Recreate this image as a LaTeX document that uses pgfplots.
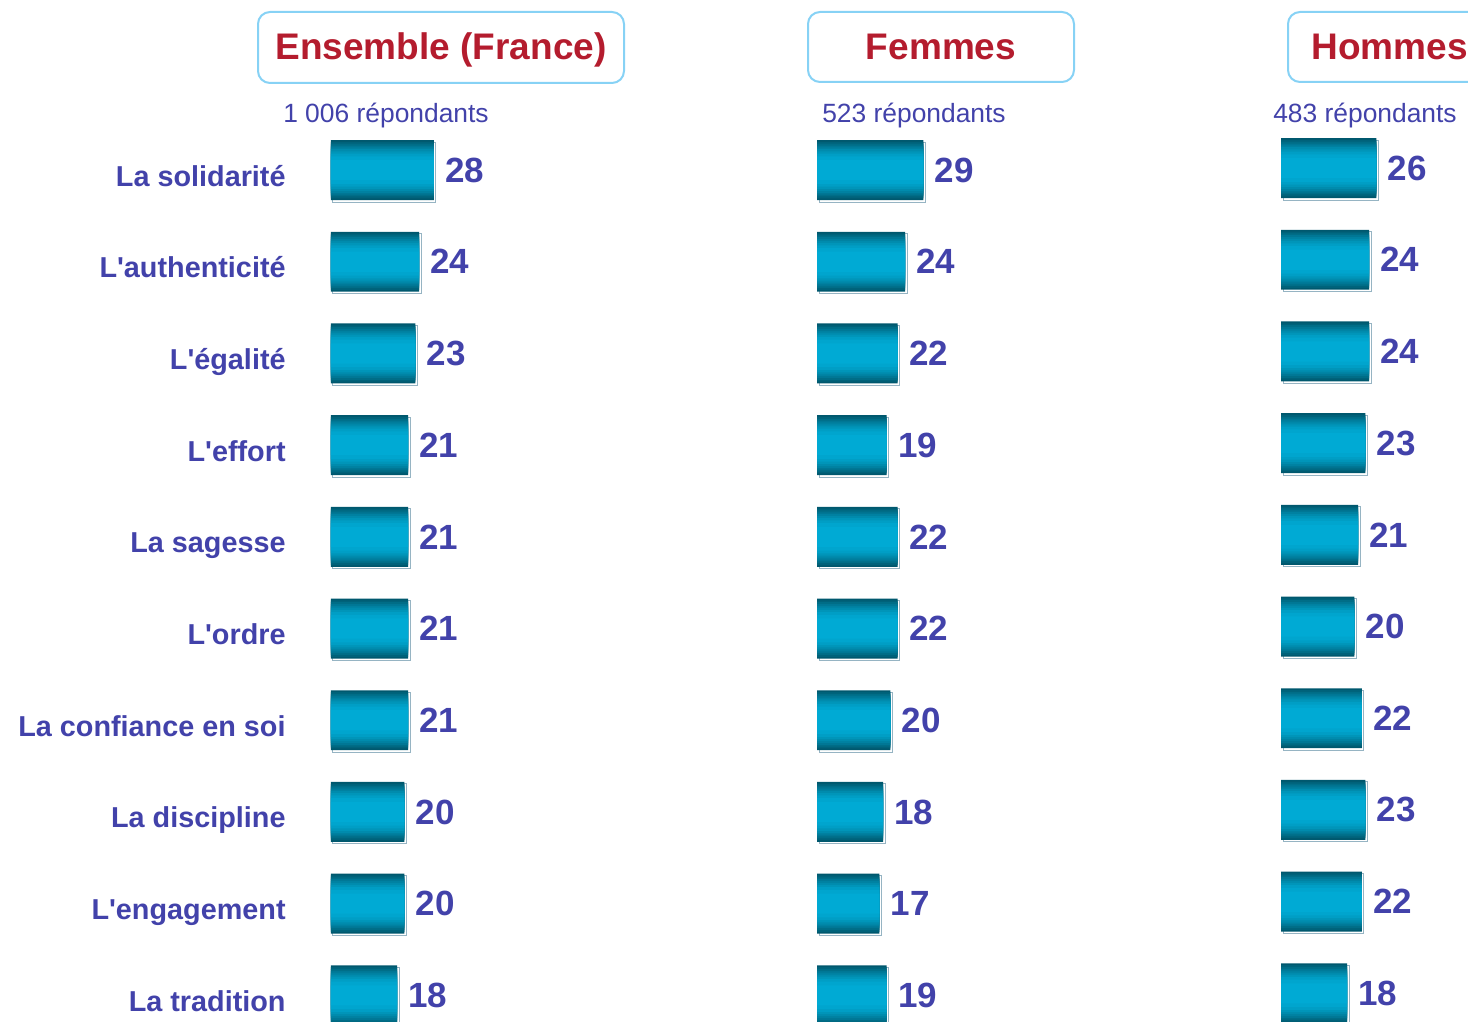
\documentclass[border=0pt]{standalone}
\usepackage{fontspec}
\setmainfont{Liberation Sans}
\usepackage{pgfplots}
\usepackage{pgfplotstable}
\pgfplotsset{compat=1.18}

\definecolor{txtblue}{RGB}{66,66,170}
\definecolor{titlered}{RGB}{180,28,46}
\definecolor{boxblue}{RGB}{135,210,245}
\definecolor{bardark}{RGB}{0,88,110}
\definecolor{barmid}{RGB}{0,170,212}
\definecolor{barshadow}{RGB}{150,180,195}

% scores (%) per row: 0 = La solidarite ... 9 = La tradition
\pgfplotstableread{
row ensemble femmes hommes
0 28 29 26
1 24 24 24
2 23 22 24
3 21 19 23
4 21 22 21
5 21 22 20
6 21 20 22
7 20 18 23
8 20 17 22
9 18 19 18
}\scores

\pgfplotsset{
  panel/.style={
    scale only axis, width=183.5pt, height=458.5pt,
    xmin=0, xmax=100, ymin=-0.5, ymax=9.5, y dir=reverse,
    enlargelimits=false,
    axis line style={draw=none}, tick style={draw=none},
    xtick=\empty, ytick={0,...,9}, yticklabels={},
    clip=false, anchor=north west,
  },
  layer/.style={xbar, bar shift=0pt, draw=none},
  shadowbar/.style={xbar, bar shift=0pt, bar width=0.654,
    draw=barshadow, line width=0.5pt, fill=none, xshift=1pt, yshift=-1pt},
  valuelabels/.style={point meta=x,
    nodes near coords={\pgfmathprintnumber[assume math mode=true]{\pgfplotspointmeta}},
    every node near coord/.append style={anchor=west, inner sep=0pt, xshift=5.5pt,
      font=\fontsize{17.5}{18}\selectfont\bfseries, text=txtblue}},
}

% one gradient bar per row: nested bars, dark at the edges, bright in the middle
\newcommand{\gradbars}[1]{%
  \addplot[shadowbar] table[x=#1, y=row] {\scores};
  \addplot[layer, bar width=0.654, fill=bardark, valuelabels] table[x=#1, y=row] {\scores};
  \addplot[layer, bar width=0.615, fill=barmid!12!bardark] table[x=#1, y=row] {\scores};
  \addplot[layer, bar width=0.575, fill=barmid!25!bardark] table[x=#1, y=row] {\scores};
  \addplot[layer, bar width=0.535, fill=barmid!38!bardark] table[x=#1, y=row] {\scores};
  \addplot[layer, bar width=0.495, fill=barmid!50!bardark] table[x=#1, y=row] {\scores};
  \addplot[layer, bar width=0.455, fill=barmid!62!bardark] table[x=#1, y=row] {\scores};
  \addplot[layer, bar width=0.41, fill=barmid!74!bardark] table[x=#1, y=row] {\scores};
  \addplot[layer, bar width=0.36, fill=barmid!85!bardark] table[x=#1, y=row] {\scores};
  \addplot[layer, bar width=0.30, fill=barmid!94!bardark] table[x=#1, y=row] {\scores};
  \addplot[layer, bar width=0.22, fill=barmid] table[x=#1, y=row] {\scores};
}

\begin{document}
\begin{tikzpicture}
\useasboundingbox (0,0) rectangle (734pt,-511pt);
\clip (0,0) rectangle (734pt,-511pt);

% panel headers
\draw[boxblue, line width=1pt, rounded corners=6pt] (129pt,-6pt) rectangle (312pt,-41.5pt);
\draw[boxblue, line width=1pt, rounded corners=6pt] (404pt,-6pt) rectangle (537pt,-41pt);
\draw[boxblue, line width=1pt, rounded corners=6pt] (644pt,-6pt) rectangle (820pt,-41pt);
\node[text=titlered, font=\fontsize{18.5}{20}\selectfont\bfseries, anchor=base] at (220.5pt,-30pt) {Ensemble (France)};
\node[text=titlered, font=\fontsize{18.5}{20}\selectfont\bfseries, anchor=base] at (470.5pt,-30pt) {Femmes};
\node[text=titlered, font=\fontsize{18.5}{20}\selectfont\bfseries, anchor=base west, inner sep=0pt] at (655.5pt,-30pt) {Hommes};
\node[text=txtblue, font=\fontsize{13.2}{15}\selectfont, anchor=base] at (193pt,-61.5pt) {1 006 répondants};
\node[text=txtblue, font=\fontsize{13.2}{15}\selectfont, anchor=base] at (457pt,-61.5pt) {523 répondants};
\node[text=txtblue, font=\fontsize{13.2}{15}\selectfont, anchor=base] at (682.5pt,-61.5pt) {483 répondants};

\begin{axis}[panel, at={(165.5pt,-62.1pt)},
  yticklabels={La solidarité, L\textquotesingle authenticité, L\textquotesingle égalité,
    L\textquotesingle effort, La sagesse, L\textquotesingle ordre, La confiance en soi,
    La discipline, L\textquotesingle engagement, La tradition},
  yticklabel style={anchor=base east, inner sep=0pt, xshift=-22.5pt, yshift=-8pt,
    font=\fontsize{14.4}{16}\selectfont\bfseries, text=txtblue}]
\gradbars{ensemble}
\end{axis}

\begin{axis}[panel, at={(408.5pt,-62.1pt)}]
\gradbars{femmes}
\end{axis}

\begin{axis}[panel, at={(640.5pt,-61.1pt)}]
\gradbars{hommes}
\end{axis}
\end{tikzpicture}
\end{document}
